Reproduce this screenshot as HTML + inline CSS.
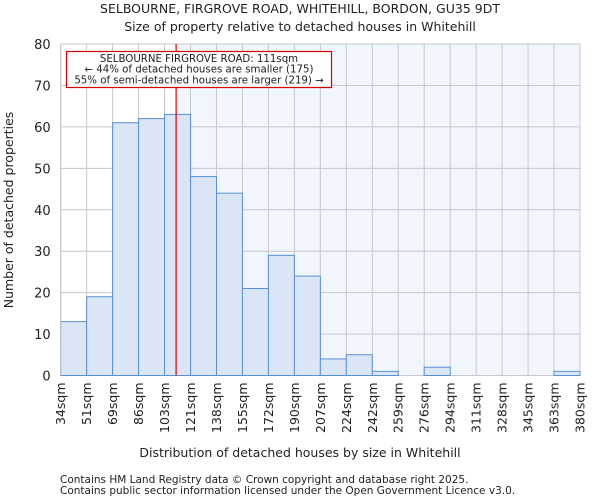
<!DOCTYPE html>
<html><head><meta charset="utf-8"><style>
body{margin:0;background:#fff;font-family:"DejaVu Sans","Liberation Sans",sans-serif;}
svg text{font-family:"DejaVu Sans","Liberation Sans",sans-serif;fill:#222;}
</style></head><body>
<svg id="chart" width="600" height="500" xmlns="http://www.w3.org/2000/svg">
<text x="300" y="13" text-anchor="middle" font-size="12.5">SELBOURNE, FIRGROVE ROAD, WHITEHILL, BORDON, GU35 9DT</text>
<text x="300" y="31" text-anchor="middle" font-size="12.5">Size of property relative to detached houses in Whitehill</text>
<g id="plot"></g>
<text x="300" y="457" text-anchor="middle" font-size="12.5">Distribution of detached houses by size in Whitehill</text>
<text transform="translate(13,210) rotate(-90)" text-anchor="middle" font-size="12.5">Number of detached properties</text>
<text x="60" y="483" font-size="10.5" fill="#444">Contains HM Land Registry data © Crown copyright and database right 2025.</text>
<text x="60" y="494" font-size="10.5" fill="#444">Contains public sector information licensed under the Open Government Licence v3.0.</text>
</svg>
<script>
const binLabels=["34sqm","51sqm","69sqm","86sqm","103sqm","121sqm","138sqm","155sqm","172sqm","190sqm","207sqm","224sqm","242sqm","259sqm","276sqm","294sqm","311sqm","328sqm","345sqm","363sqm","380sqm"];
const binEdges=[34,51,69,86,103,121,138,155,172,190,207,224,242,259,276,294,311,328,345,363,380];
const counts=[13,19,61,62,63,48,44,21,29,24,4,5,1,0,2,0,0,0,0,1];
const yTicks=[0,10,20,30,40,50,60,70,80];
const propertySize=111;
const NS="http://www.w3.org/2000/svg";
const L=60.7,R=580,T=44,B=375.5,YMAX=80;
const n=counts.length,bw=(R-L)/n;
const xi=i=>L+i*bw;
const y=v=>B-(v/YMAX)*(B-T);
function xv(v){for(let i=0;i<binEdges.length-1;i++){if(v<=binEdges[i+1])return xi(i)+(v-binEdges[i])/(binEdges[i+1]-binEdges[i])*bw;}return R;}
const g=document.getElementById('plot');
function mk(t,a){const e=document.createElementNS(NS,t);for(const k in a)e.setAttribute(k,a[k]);g.appendChild(e);return e;}
const px=xv(propertySize);
let e=mk('rect',{x:L,y:T,width:px-L,height:B-T,fill:'#ffffff'});


e=mk('rect',{x:px,y:T,width:R-px,height:B-T,fill:'#f1f5fd'});


yTicks.forEach(v=>{
 const l=mk('line',{x1:L,x2:R,y1:y(v),y2:y(v),stroke:'#c8c8c8','stroke-width':1});
 
 
 const t=mk('text',{x:L-10,y:y(v)+5,'text-anchor':'end','font-size':13});
 t.textContent=v;
 
 
});
binLabels.forEach((lab,i)=>{
 const l=mk('line',{x1:xi(i),x2:xi(i),y1:T,y2:B,stroke:'#c8c8c8','stroke-width':1});
 
 
 const t=mk('text',{transform:`translate(${xi(i)+4.5},${B+7}) rotate(-90)`,'text-anchor':'end','font-size':12.5});
 t.textContent=lab;
 
 
});
counts.forEach((c,i)=>{
 if(c<=0)return;
 const r=mk('rect',{x:xi(i),y:y(c),width:bw,height:B-y(c),fill:'#dae5f6',stroke:'#5b8fd6','stroke-width':1});
 
 
});
e=mk('line',{x1:L,x2:L,y1:T,y2:B,stroke:'#c8c8c8'});


e=mk('line',{x1:px,x2:px,y1:T,y2:B,stroke:'#dd0000','stroke-width':1.2});


e=mk('rect',{x:66.5,y:51.5,width:265,height:36,fill:'#fff',stroke:'#d00000','stroke-width':1.2});


["SELBOURNE FIRGROVE ROAD: 111sqm","← 44% of detached houses are smaller (175)","55% of semi-detached houses are larger (219) →"].forEach((s,i)=>{
 const t=mk('text',{x:199,y:62+i*10.7,'text-anchor':'middle','font-size':10.2});
 t.textContent=s;
 
 
});
</script>
</body></html>
